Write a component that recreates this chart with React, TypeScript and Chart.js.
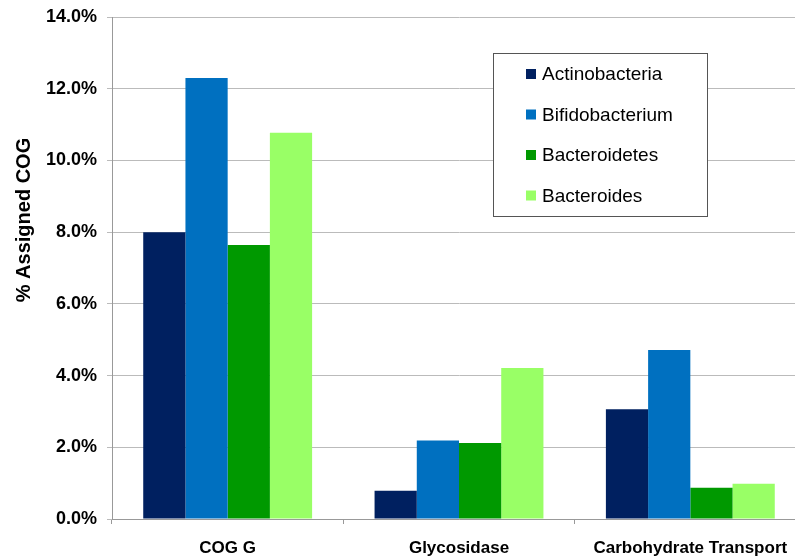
import React, { useEffect, useRef } from "react";
import { Chart, registerables } from "chart.js";

Chart.register(...registerables);

const categories = ["COG G", "Glycosidase", "Carbohydrate Transport"];
const seriesNames = ["Actinobacteria", "Bifidobacterium", "Bacteroidetes", "Bacteroides"];
const actinobacteria = [8.0, 0.79, 3.06];
const bifidobacterium = [12.3, 2.19, 4.71];
const bacteroidetes = [7.64, 2.12, 0.87];
const bacteroides = [10.77, 4.21, 0.98];
const colors = ["#002060", "#0070C0", "#009900", "#99FF66"];
const yTitle = "% Assigned COG";

const FONT = "'Liberation Sans', Arial, sans-serif";

const legendPlugin = {
  id: "boxLegend",
  afterDraw(chart: any) {
    const ctx = chart.ctx;
    ctx.save();
    const x0 = 493, y0 = 53, w = 214, h = 163;
    ctx.fillStyle = "#ffffff";
    ctx.fillRect(x0, y0, w, h);
    ctx.strokeStyle = "#555555";
    ctx.lineWidth = 1;
    ctx.strokeRect(x0 + 0.5, y0 + 0.5, w, h);
    ctx.font = "19px " + FONT;
    ctx.textBaseline = "middle";
    chart.data.datasets.forEach((ds: any, i: number) => {
      const cy = y0 + 21 + i * 40.5;
      ctx.fillStyle = ds.backgroundColor;
      ctx.fillRect(x0 + 33, cy - 5, 10, 10);
      ctx.fillStyle = "#000000";
      ctx.fillText(ds.label, x0 + 49, cy + 1);
    });
    // y axis title
    ctx.translate(24, 220);
    ctx.rotate(-Math.PI / 2);
    ctx.font = "bold 20px " + FONT;
    ctx.textAlign = "center";
    ctx.textBaseline = "middle";
    ctx.fillStyle = "#000000";
    ctx.fillText(yTitle, 0, 0);
    ctx.restore();
  },
};

export default function App() {
  const ref = useRef<HTMLCanvasElement | null>(null);
  useEffect(() => {
    if (!ref.current) return;
    const series = [actinobacteria, bifidobacterium, bacteroidetes, bacteroides];
    const chart = new Chart(ref.current, {
      type: "bar",
      data: {
        labels: categories,
        datasets: series.map((d, i) => ({
          label: seriesNames[i],
          data: d,
          backgroundColor: colors[i],
          borderWidth: 0,
          categoryPercentage: 0.73,
          barPercentage: 1.0,
        })),
      },
      options: {
        animation: false,
        responsive: false,
        maintainAspectRatio: false,
        layout: { padding: { left: 0, right: 9, top: 17, bottom: 0 } },
        plugins: { legend: { display: false }, tooltip: { enabled: false } },
        scales: {
          x: {
            offset: true,
            grid: {
              display: true,
              offset: true,
              drawOnChartArea: false,
              drawTicks: true,
              tickLength: 5,
              color: "#999999",
            },
            border: { display: true, color: "#999999" },
            ticks: {
              color: "#000000",
              padding: 14,
              font: { family: FONT, size: 17, weight: "bold" },
            },
            afterFit: (s: any) => { s.height = 38; },
          },
          y: {
            min: 0,
            max: 14,
            ticks: {
              stepSize: 2,
              color: "#000000",
              padding: 10,
              font: { family: FONT, size: 18, weight: "bold", lineHeight: 1 },
              callback: (v: any) => Number(v).toFixed(1) + "%",
            },
            grid: { color: "#BBBBBB", tickLength: 5 },
            border: { display: true, color: "#999999" },
            title: { display: false, text: yTitle },
            afterFit: (s: any) => { s.width = 112; s.paddingTop = 0; s.paddingBottom = 0; },
          },
        },
      },
      plugins: [legendPlugin],
    });
    return () => chart.destroy();
  }, []);
  return (
    <div style={{ position: "fixed", left: 0, top: 0, width: 795, height: 557, overflow: "hidden", background: "#fff" }}>
      <canvas ref={ref} width={815} height={557} style={{ display: "block" }} />
    </div>
  );
}
